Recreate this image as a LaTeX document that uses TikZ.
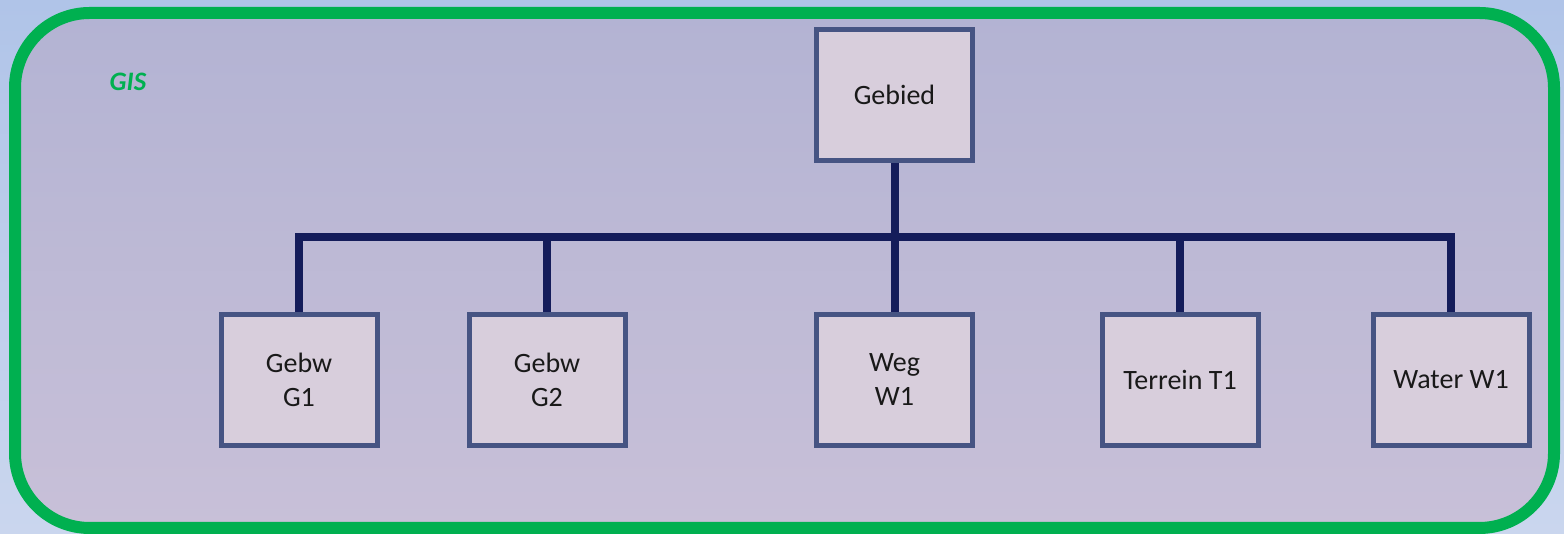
\documentclass[tikz,border=0pt]{standalone}
\usepackage{fontspec}
\setmainfont{Carlito}
\definecolor{gis_green}{RGB}{0, 176, 80}
\definecolor{gis_line}{RGB}{20, 28, 90}
\definecolor{gis_edge}{RGB}{70, 84, 131}
\definecolor{gis_box}{RGB}{216, 206, 220}
\definecolor{gis_top}{RGB}{179, 179, 211}
\definecolor{gis_bottom}{RGB}{200, 192, 216}
\definecolor{page_top}{RGB}{176, 196, 232}
\definecolor{page_bottom}{RGB}{202, 214, 238}
\usetikzlibrary{positioning}

\begin{document}
\begin{tikzpicture}[x=0.75pt, y=0.75pt,
    objbox/.style={draw=gis_edge, fill=gis_box, line width=3.75pt,
      minimum width=117pt, minimum height=98pt, align=center,
      text=black!90, font=\fontsize{21}{25.5}\selectfont},
    treeline/.style={draw=gis_line, line width=6pt}]
        % Achtergrond
        \shade[top color=page_top, bottom color=page_bottom]
          (0,0) rectangle (1564,534);
        \useasboundingbox (0,0) rectangle (1564,534);

        % GIS-kader
        \draw[gis_green, line width=9pt, rounded corners=56pt,
              top color=gis_top, bottom color=gis_bottom]
          (15,6) rectangle (1554,521);
        \node[text=gis_green, font=\fontsize{20}{24}\selectfont\bfseries\itshape]
          (gis) at (128,452) {GIS};

        % Gebied
        \node[objbox] (gebied) at (894.5,439) {Gebied};
        \coordinate (split) at (894.5,297);

        % Objecten
        \node[objbox] (gebw1) at (299,154) {Gebw\\G1};
        \node[objbox] (gebw2) at (547,154) {Gebw\\G2};
        \node[objbox] (weg1) at (894.5,154) {Weg\\W1};
        \node[objbox] (terrein1) at (1180,154) {Terrein T1};
        \node[objbox] (water1) at (1451,154) {Water W1};

        % Verbindingen
        \draw[treeline] (gebied.south) -- (split);
        \foreach \obj in {gebw1,gebw2,weg1,terrein1,water1} {
          \draw[treeline] (\obj.north) |- (split);
        }
\end{tikzpicture}
\end{document}
